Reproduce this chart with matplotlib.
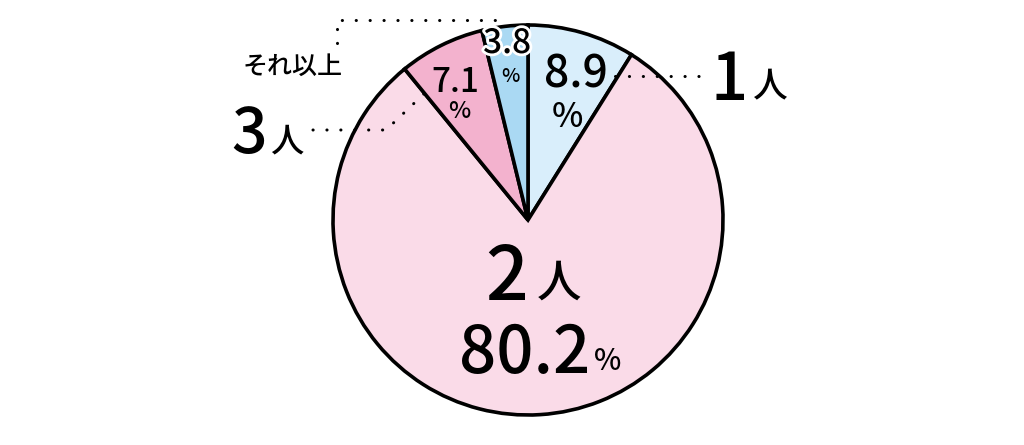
import matplotlib.pyplot as plt
import matplotlib.patheffects as pe

plt.rcParams['font.family'] = ['Noto Sans CJK JP', 'DejaVu Sans']

# data (clockwise from the top)
labels = ['1人', '2人', '3人', 'それ以上']
values = [8.9, 80.2, 7.1, 3.8]
colors = ['#d9eefb', '#fadbe8', '#f3b2ce', '#aad9f3']

W, H = 1024, 445
fig = plt.figure(figsize=(W / 100, H / 100), dpi=100)
ax = fig.add_axes([0, 0, 1, 1])

# y axis runs downward (pixel like), so start at -90 and go "counterclockwise"
ax.pie(values, colors=colors, startangle=-90, counterclock=True,
       center=(528, 220), radius=195,
       wedgeprops=dict(edgecolor='black', linewidth=2.6))
ax.set_xlim(0, W)
ax.set_ylim(H, 0)
ax.set_aspect('auto')
ax.axis('off')

def txt(x, y, s, size, **kw):
    ax.text(x, y, s, fontsize=size, ha='center', va='baseline',
            color='black', fontweight='medium', **kw)

def dots(xs, ys):
    ax.plot(xs, ys, color='black', linewidth=2.2, linestyle=(0, (0.05, 4.5)),
            dash_capstyle='round', solid_capstyle='round')

# 1人
txt(576, 88, f'{values[0]}', 32)
txt(567, 127, '%', 24)
txt(729, 100, '1', 47)
txt(770, 97, '人', 25)
dots([615, 711], [76, 76])

# 2人
txt(507, 300, '2', 54)
txt(559, 297, '人', 32)
txt(525, 373, f'{values[1]}', 47)
txt(608, 370, '%', 21)

# 3人
txt(455, 92, f'{values[2]}', 24)
txt(459, 118, '%', 17)
txt(249, 153, '3', 45)
txt(287, 151, '人', 24)
dots([313, 386, 428], [130, 130, 90])

# それ以上
stroke = [pe.withStroke(linewidth=4, foreground='white')]
ax.text(507, 53, f'{values[3]}', fontsize=24, ha='center', va='baseline',
        fontweight='medium', path_effects=stroke)
txt(510, 82, '%', 14)
ax.text(293, 74, 'それ以上', fontsize=18, ha='center', va='baseline',
        fontweight='medium')
dots([337, 337, 505], [43, 20, 20])

fig.savefig('out.png', dpi=100)
